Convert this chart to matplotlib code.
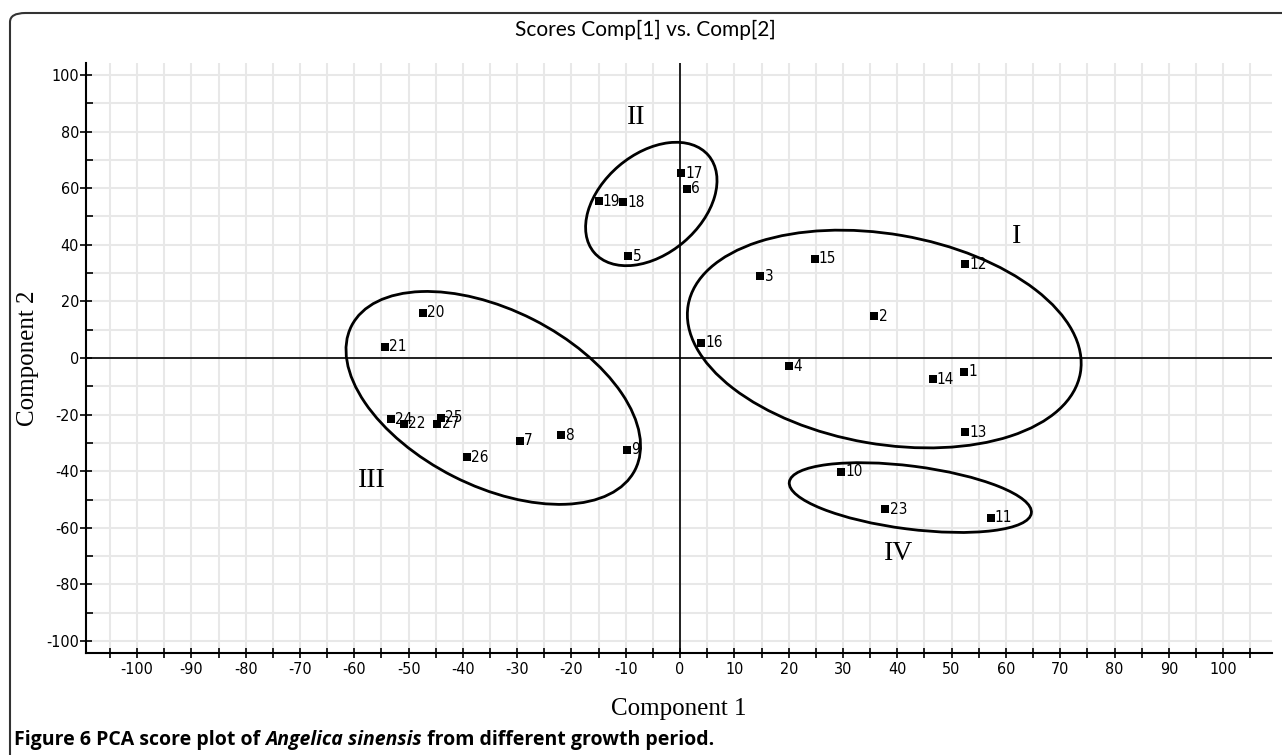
import numpy as np
import matplotlib
matplotlib.use("Agg")
import matplotlib.pyplot as plt
from matplotlib.patches import Ellipse, FancyBboxPatch
from matplotlib.transforms import ScaledTranslation
from matplotlib.ticker import MultipleLocator

# ---- data ----
sample_ids = ["1", "2", "3", "4", "5", "6", "7", "8", "9", "10", "11", "12", "13", "14",
              "15", "16", "17", "18", "19", "20", "21", "22", "23", "24", "25", "26", "27"]
comp1 = [52.3, 35.8, 14.8, 20.1, -9.5, 1.2, -29.5, -22.0, -9.8, 29.7, 57.2, 52.5, 52.5, 46.5,
         24.8, 3.9, 0.25, -10.5, -15.0, -47.3, -54.3, -50.8, 37.8, -53.3, -44.1, -39.3, -44.7]
comp2 = [-4.8, 14.8, 28.9, -2.9, 36.0, 59.7, -29.3, -27.2, -32.4, -40.2, -56.4, 33.2, -26.2, -7.5,
         35.0, 5.3, 65.3, 55.0, 55.3, 16.0, 4.0, -23.3, -53.5, -21.7, -21.1, -35.0, -23.3]

x_ticks = list(range(-100, 101, 10))
y_ticks = list(range(-100, 101, 20))

# group ellipses: centre (data), width/height in pixels, visual angle (deg)
groups = ["I", "II", "III", "IV"]
group_cx = [37.6, -5.3, -34.4, 42.4]
group_cy = [6.7, 54.4, -14.1, -49.3]
group_w = [398, 150, 318, 244]
group_h = [210, 100, 176, 63]
group_ang = [-9.8, 40.3, -26.9, -7.3]
label_x = [62, -8.1, -56.8, 40.3]
label_y = [42.9, 85, -43.1, -69]

W, H = 1282, 755
fig = plt.figure(figsize=(W / 100, H / 100), dpi=100)
fig.patch.set_facecolor("white")

# rounded frame (open to the right and bottom edges)
frame = FancyBboxPatch((10 / W, -0.2), 1.2, 1.2 - 13 / H,
                       boxstyle="round,pad=0,rounding_size=0.012",
                       transform=fig.transFigure, fill=False,
                       edgecolor="#333333", linewidth=1.5, clip_on=False)
fig.patches.append(frame)

ax = fig.add_axes([86 / W, 102 / H, 1186 / W, 590 / H])
ax.set_xlim(-109.4, 109.0)
ax.set_ylim(-104.2, 104.2)

for s in ["top", "right"]:
    ax.spines[s].set_visible(False)
for s in ["left", "bottom"]:
    ax.spines[s].set_linewidth(1.5)
    ax.spines[s].set_color("black")

ax.xaxis.set_major_locator(plt.FixedLocator(x_ticks))
ax.xaxis.set_minor_locator(MultipleLocator(5))
ax.yaxis.set_major_locator(plt.FixedLocator(y_ticks))
ax.yaxis.set_minor_locator(MultipleLocator(10))

tick_font = ["Liberation Sans Narrow", "DejaVu Sans"]
ax.set_xticklabels([str(t) for t in x_ticks], family=tick_font, fontsize=11.5,
                   fontstretch="condensed")
ax.set_yticklabels([str(t) for t in y_ticks], family=tick_font, fontsize=11.5,
                   fontstretch="condensed")
ax.tick_params(axis="x", which="both", direction="inout", length=7, width=1.2, pad=3)
ax.tick_params(axis="y", which="major", direction="inout", length=8, width=1.2, pad=1)
ax.tick_params(axis="y", which="minor", direction="in", length=5, width=1.2)

ax.grid(True, which="both", color="#e8e8e8", linewidth=1.5, zorder=0)
ax.set_axisbelow(True)

ax.axhline(0, color="black", linewidth=1.2, zorder=1)
ax.axvline(0, color="black", linewidth=1.2, zorder=1)

ax.scatter(comp1, comp2, marker="s", s=30, color="black", zorder=3, linewidths=0)
for lab, x, y in zip(sample_ids, comp1, comp2):
    ax.annotate(lab, (x, y), xytext=(3.0, 0), textcoords="offset points",
                ha="left", va="center", fontsize=11, family=tick_font,
                fontstretch="condensed", zorder=4)

for cx, cy, w, h, a in zip(group_cx, group_cy, group_w, group_h, group_ang):
    tr = fig.dpi_scale_trans + ScaledTranslation(cx, cy, ax.transData)
    e = Ellipse((0, 0), w / 100, h / 100, angle=a, transform=tr, fill=False,
                edgecolor="black", linewidth=2.0, zorder=2)
    ax.add_patch(e)

for g, x, y in zip(groups, label_x, label_y):
    ax.text(x, y, g, ha="center", va="center", fontsize=20,
            family="Liberation Serif", zorder=4)

ax.set_xlabel("Component 1", family="Liberation Serif", fontsize=18, va="center")
ax.xaxis.set_label_coords(0.5, (653 - 709) / 590)
ax.set_ylabel("Component 2", family="Liberation Serif", fontsize=18, va="center")
ax.yaxis.set_label_coords((28 - 86) / 1186, 0.5)

fig.text(645 / W, 1 - 30 / H, "Scores Comp[1] vs. Comp[2]", ha="center", va="center",
         fontsize=15, family=["Lato", "DejaVu Sans"])

# caption composed of segments (bold, species name italic)
fig.canvas.draw()
renderer = fig.canvas.get_renderer()
segs = [("Figure 6 PCA score plot of ", "normal"), ("Angelica sinensis", "italic"),
        (" from different growth period.", "normal")]
x0 = 14
for txt, style in segs:
    t = fig.text(x0 / W, 1 - 740 / H, txt, ha="left", va="center", fontsize=14,
                 fontweight="bold", style=style, family=["Open Sans", "DejaVu Sans"])
    bb = t.get_window_extent(renderer)
    x0 += bb.width

fig.savefig("out.png", dpi=100)
